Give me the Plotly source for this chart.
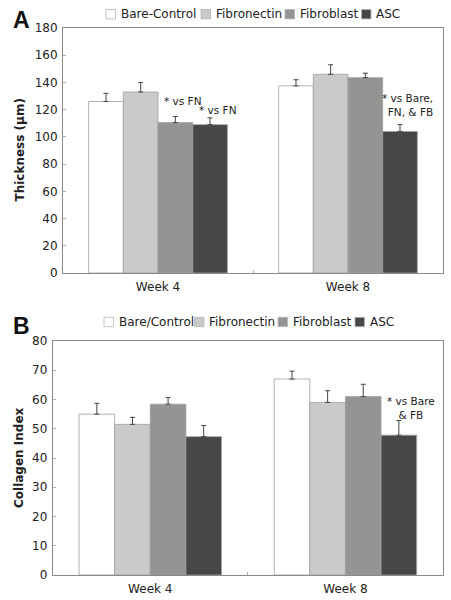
import plotly.graph_objects as go

# ---------------- data ----------------
weeks = ["Week 4", "Week 8"]
groups_a = ["Bare-Control", "Fibronectin", "Fibroblast", "ASC"]
groups_b = ["Bare/Control", "Fibronectin", "Fibroblast", "ASC"]

thick_bare = [126, 137.5]
thick_fn = [133, 146]
thick_fb = [110.5, 143.5]
thick_asc = [109, 104]
thick_bare_err = [6, 4.5]
thick_fn_err = [7, 7]
thick_fb_err = [4.5, 3.3]
thick_asc_err = [5, 5]

coll_bare = [55, 67]
coll_fn = [51.5, 59]
coll_fb = [58.4, 61]
coll_asc = [47.3, 47.8]
coll_bare_err = [3.7, 2.7]
coll_fn_err = [2.4, 4]
coll_fb_err = [2.3, 4.2]
coll_asc_err = [3.8, 5]

colors = ["#ffffff", "#cacaca", "#949494", "#474747"]

W, H = 451, 600
FONT = "DejaVu Sans"
TXT = "#222222"


def px(x):
    return x / W


def py(y):
    return 1 - y / H


fig = go.Figure()

series_a = [(thick_bare, thick_bare_err), (thick_fn, thick_fn_err),
            (thick_fb, thick_fb_err), (thick_asc, thick_asc_err)]
series_b = [(coll_bare, coll_bare_err), (coll_fn, coll_fn_err),
            (coll_fb, coll_fb_err), (coll_asc, coll_asc_err)]

for name, (vals, err), col in zip(groups_a, series_a, colors):
    fig.add_trace(go.Bar(
        x=weeks, y=vals, name=name, xaxis="x", yaxis="y",
        marker=dict(color=col, line=dict(color="#a0a0a0", width=0.8)),
        error_y=dict(type="data", array=err, arrayminus=[0] * len(err),
                     symmetric=False, color="#444444", thickness=1, width=2.5),
        showlegend=False))

for name, (vals, err), col in zip(groups_b, series_b, colors):
    fig.add_trace(go.Bar(
        x=weeks, y=vals, name=name, xaxis="x2", yaxis="y2",
        marker=dict(color=col, line=dict(color="#a0a0a0", width=0.8)),
        error_y=dict(type="data", array=err, arrayminus=[0] * len(err),
                     symmetric=False, color="#444444", thickness=1, width=2.5),
        showlegend=False))

axis_common = dict(showline=True, mirror=True, linecolor="#8a8a8a", linewidth=1,
                   showgrid=False, zeroline=False, ticks="inside", ticklen=3,
                   tickcolor="#b0b0b0", automargin=False,
                   tickfont=dict(family=FONT, size=12, color=TXT))

fig.update_layout(
    width=W, height=H, margin=dict(l=0, r=0, t=0, b=0),
    paper_bgcolor="white", plot_bgcolor="white",
    barmode="group", bargap=0.27, bargroupgap=0,
    font=dict(family=FONT, size=12, color=TXT),
    xaxis=dict(domain=[px(63), px(443)], anchor="y", tickson="boundaries",
               ticklabelstandoff=3, **axis_common),
    yaxis=dict(domain=[py(273), py(28)], anchor="x", range=[0, 180], dtick=20,
               ticklabelstandoff=2, **axis_common),
    xaxis2=dict(domain=[px(52.7), px(443)], anchor="y2", tickson="boundaries",
                ticklabelstandoff=3, **axis_common),
    yaxis2=dict(domain=[py(575), py(341)], anchor="x2", range=[0, 80], dtick=10,
                ticklabelstandoff=2, **axis_common),
)

ann = []
center = dict(xanchor="center", yanchor="middle", showarrow=False)
# panel letters
ann.append(dict(text="<b>A</b>", x=px(21.5), y=py(20), xref="paper", yref="paper",
                font=dict(family="Liberation Sans", size=23, color="#111"), **center))
ann.append(dict(text="<b>B</b>", x=px(21), y=py(325.5), xref="paper", yref="paper",
                font=dict(family="Liberation Sans", size=23, color="#111"), **center))
# y-axis titles
ann.append(dict(text="<b>Thickness (μm)</b>", x=px(19), y=py(150.5), xref="paper", yref="paper",
                textangle=-90, font=dict(family=FONT, size=12, color=TXT), **center))
ann.append(dict(text="<b>Collagen Index</b>", x=px(19), y=py(458), xref="paper", yref="paper",
                textangle=-90, font=dict(family=FONT, size=12, color=TXT), **center))
# significance notes
note_font = dict(family=FONT, size=10.5, color=TXT)
ann.append(dict(text="* vs FN", x=0.02, y=126.5, xref="x", yref="y", xanchor="left",
                yanchor="middle", showarrow=False, font=note_font))
ann.append(dict(text="* vs FN", x=0.205, y=119.8, xref="x", yref="y", xanchor="left",
                yanchor="middle", showarrow=False, font=note_font))
ann.append(dict(text="* vs Bare,<br>FN, & FB", x=1.46, y=123.4, xref="x", yref="y",
                xanchor="right", yanchor="middle", align="right", showarrow=False, font=note_font))
ann.append(dict(text="* vs Bare<br>& FB", x=1.335, y=57.0, xref="x2", yref="y2",
                align="center", font=note_font, **center))

# custom legends (box + label)
shapes = []
legend_a_x = [106, 201, 285, 361.5]
legend_b_x = [104, 194.5, 278, 355]
for labels, xs, yc in [(groups_a, legend_a_x, 14.2), (groups_b, legend_b_x, 322)]:
    for lab, x0, col in zip(labels, xs, colors):
        shapes.append(dict(type="rect", xref="paper", yref="paper",
                           x0=px(x0), x1=px(x0 + 9.5), y0=py(yc + 4.7), y1=py(yc - 4.7),
                           fillcolor=col, line=dict(color="#b5b5b5", width=0.8)))
        ann.append(dict(text=lab, x=px(x0 + 12.5), y=py(yc), xref="paper", yref="paper",
                        xanchor="left", yanchor="middle", showarrow=False,
                        font=dict(family=FONT, size=12, color=TXT)))

fig.update_layout(annotations=ann, shapes=shapes)

fig.write_html("out.html", config={"displayModeBar": False},
               post_script="document.body.style.margin='0';document.body.style.padding='0';")
